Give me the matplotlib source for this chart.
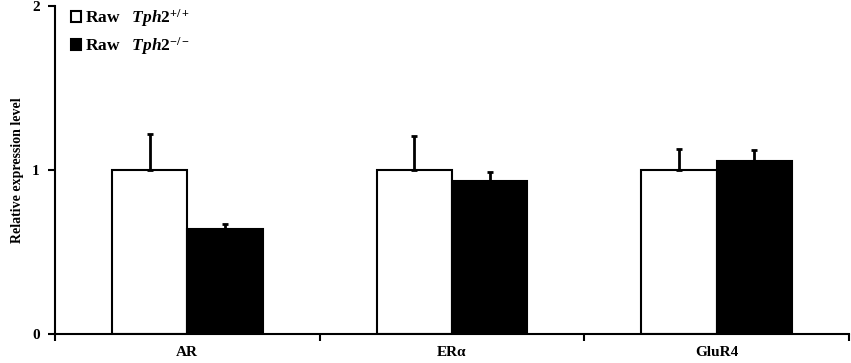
import numpy as np
import matplotlib.pyplot as plt

# data
genes = ["AR", "ERα", "GluR4"]
wt_mean = [1.00, 1.00, 1.00]
wt_err = [0.22, 0.21, 0.13]
ko_mean = [0.64, 0.93, 1.055]
ko_err = [0.03, 0.06, 0.07]

plt.rcParams['font.family'] = ['Liberation Serif', 'DejaVu Serif']
plt.rcParams['font.weight'] = 'bold'
plt.rcParams['mathtext.fontset'] = 'custom'
plt.rcParams['mathtext.rm'] = 'Liberation Serif:bold'
plt.rcParams['mathtext.it'] = 'Liberation Serif:bold:italic'

fig = plt.figure(figsize=(8.51, 3.63), dpi=100)
ax = fig.add_axes([55 / 851, 29 / 363, 794 / 851, 328 / 363])

x = np.arange(len(genes))
w = 0.285
err_kw = dict(lw=2, capsize=2.5, capthick=2, ecolor='black')

ax.bar(x - w / 2, wt_mean, w, color='white', edgecolor='black', linewidth=1.5,
       yerr=[np.zeros(3), wt_err], error_kw=err_kw, label="Raw   $Tph2^{+/+}$")
ax.bar(x + w / 2, ko_mean, w, color='black', edgecolor='black', linewidth=1.5,
       yerr=[np.zeros(3), ko_err], error_kw=err_kw, label="Raw   $Tph2^{-/-}$")

ax.set_xlim(-0.5, 2.5)
ax.set_ylim(0, 2)
ax.set_yticks([0, 1, 2])
ax.set_yticklabels(["0", "1", "2"], fontsize=11, fontweight='bold')
ax.set_xticks([-0.5, 0.5, 1.5, 2.5])
ax.set_xticklabels([])
ax.set_xticks(x, minor=True)
ax.set_xticklabels(genes, minor=True, fontsize=11, fontweight='bold')
ax.tick_params(axis='x', which='minor', length=0, pad=9)
ax.tick_params(axis='x', which='major', length=5, width=1.5, direction='out')
ax.tick_params(axis='y', length=5, width=1.5, direction='out', pad=6)

for s in ['top', 'right']:
    ax.spines[s].set_visible(False)
for s in ['left', 'bottom']:
    ax.spines[s].set_linewidth(1.5)

ax.set_ylabel("Relative expression level", fontsize=10, fontweight='bold', labelpad=6)

ax.legend(loc='upper left', bbox_to_anchor=(0.0, 1.045), frameon=False, fontsize=12.5,
          handlelength=0.6, handleheight=0.6, handletextpad=0.25, labelspacing=0.35)

fig.savefig("out.png", dpi=100)
